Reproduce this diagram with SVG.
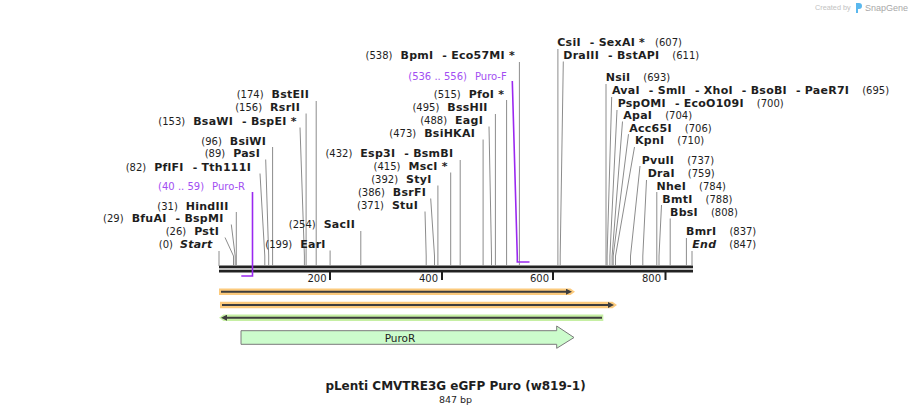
<svg xmlns="http://www.w3.org/2000/svg" width="912" height="414" viewBox="0 0 912 414">
<style>
text{font-family:"DejaVu Sans",Verdana,sans-serif;font-size:10px;fill:#1e1e1e}
.e{text-anchor:end}
.b{font-weight:bold;font-size:11px;letter-spacing:0.25px}
.bi{font-weight:bold;font-style:italic;font-size:11px;letter-spacing:0.25px}
.p{fill:#a24ef2}
.ln{stroke:#8c8c8c;stroke-width:1;fill:none}
.pl{stroke:#9a28f0;stroke-width:1.6;fill:none}
.tk{fill:#1e1e1e}
.or{fill:#fcca7c}
.gr{fill:#c6efa3}
.dk{stroke:#3d3d3d;stroke-width:2;fill:none}
.wm{font-family:"Liberation Sans",Arial,sans-serif}
</style>
<defs>
<marker id="ah" viewBox="0 0 6 6" refX="3" refY="3" markerWidth="6" markerHeight="6" markerUnits="userSpaceOnUse" orient="auto-start-reverse"><path d="M0,0 L6,3 L0,6 z" fill="#3d3d3d"/></marker>
</defs>
<rect width="912" height="414" fill="#fff"/>

<g id="watermark">
<text class="wm" x="815" y="10" style="font-size:7.3px;fill:#c2c2c2">Created by</text>
<path d="M856,3 h3 a3,3 0 0 1 0,6 h-1 v4 h-2 z" fill="#5ab8ee"/>
<text class="wm" x="865" y="11" style="font-size:9px;fill:#a8a8a8">SnapGene</text>
</g>

<g id="backbone">
<rect x="219" y="265.5" width="474" height="2.8" fill="#222"/>
<rect x="219" y="269.7" width="474" height="2.8" fill="#222"/>
<rect class="tk" x="329" y="272" width="2" height="8"/>
<rect class="tk" x="441" y="272" width="2" height="8"/>
<rect class="tk" x="552" y="272" width="2" height="8"/>
<rect class="tk" x="664.5" y="272" width="2" height="8"/>
<text class="e" x="326.5" y="281.5">200</text>
<text class="e" x="438" y="281.5">400</text>
<text class="e" x="549" y="281.5">600</text>
<text class="e" x="661" y="281.5">800</text>
</g>

<g id="connectors">
<polyline class="ln" points="219,251 219,266"/>
<polyline class="ln" points="225,237.5 233.5,256 233.5,266"/>
<polyline class="ln" points="231.3,224.5 235.2,256 235.2,266"/>
<polyline class="ln" points="236.3,212 236.3,266"/>
<polyline class="ln" points="260,173.5 264.8,256 264.8,266"/>
<polyline class="ln" points="265.7,159.5 268.7,256 268.7,266"/>
<polyline class="ln" points="272.6,147 272.6,266"/>
<polyline class="ln" points="300,127.5 304.4,256 304.4,266"/>
<polyline class="ln" points="306.1,113.5 306.1,266"/>
<polyline class="ln" points="316.2,101 316.2,266"/>
<polyline class="ln" points="330.1,250.5 330.1,266"/>
<polyline class="ln" points="360.8,231 360.8,266"/>
<polyline class="ln" points="425,211.5 426.2,256 426.2,266"/>
<polyline class="ln" points="430.7,198.5 434.5,256 434.5,266"/>
<polyline class="ln" points="437.9,185.5 437.9,266"/>
<polyline class="ln" points="450.7,172.5 450.7,266"/>
<polyline class="ln" points="460.2,160 460.2,266"/>
<polyline class="ln" points="483.1,139.5 483.1,266"/>
<polyline class="ln" points="489,126.5 491.5,256 491.5,266"/>
<polyline class="ln" points="495.4,114 495.4,266"/>
<polyline class="ln" points="506.6,100 506.6,266"/>
<polyline class="ln" points="519.4,62 519.4,266"/>
<polyline class="ln" points="557.9,49 557.9,266"/>
<polyline class="ln" points="563.3,61.5 560.2,256 560.2,266"/>
<polyline class="ln" points="606,84 606,266"/>
<polyline class="ln" points="611.7,97 607.1,256 607.1,266"/>
<polyline class="ln" points="617,110 609.9,256 609.9,266"/>
<polyline class="ln" points="622.5,121.5 612.1,256 612.1,266"/>
<polyline class="ln" points="628.5,134.2 613.2,256 613.2,266"/>
<polyline class="ln" points="634.5,147 615.5,256 615.5,266"/>
<polyline class="ln" points="640,166 630.5,256 630.5,266"/>
<polyline class="ln" points="646.5,180 642.8,256 642.8,266"/>
<polyline class="ln" points="656.8,192 656.8,266"/>
<polyline class="ln" points="661.5,205 659,256 659,266"/>
<polyline class="ln" points="670.2,218.5 670.2,266"/>
<polyline class="ln" points="686.4,238 686.4,266"/>
<polyline class="ln" points="692,251 692,266"/>
<polyline class="pl" points="252.5,192 252.5,276 241.3,276"/>
<polyline class="pl" points="512.3,81 517.3,257 517.3,262 529.5,262"/>
</g>

<g id="site-Start"><text class="e" x="212.5" y="248">(0)<tspan class="bi" dx="7">Start</tspan></text></g>
<g id="site-PstI"><text class="e" x="219" y="235">(26)<tspan class="b" dx="8">PstI</tspan></text></g>
<g id="site-BfuAI"><text class="e" x="223.5" y="222">(29)<tspan class="b" dx="8">BfuAI</tspan><tspan class="b" dx="9">- BspMI</tspan></text></g>
<g id="site-HindIII"><text class="e" x="228.5" y="209.5">(31)<tspan class="b" dx="8">HindIII</tspan></text></g>
<g id="primer-Puro-R"><text class="e p" x="245" y="189.5">(40 .. 59)<tspan dx="8">Puro-R</tspan></text></g>
<g id="site-PflFI"><text class="e" x="251" y="171">(82)<tspan class="b" dx="8">PflFI</tspan><tspan class="b" dx="9">- Tth111I</tspan></text></g>
<g id="site-PasI"><text class="e" x="260" y="157">(89)<tspan class="b" dx="8">PasI</tspan></text></g>
<g id="site-BsiWI"><text class="e" x="266" y="144.5">(96)<tspan class="b" dx="8">BsiWI</tspan></text></g>
<g id="site-BsaWI"><text class="e" x="296.7" y="124.5">(153)<tspan class="b" dx="8">BsaWI</tspan><tspan class="b" dx="9">- BspEI *</tspan></text></g>
<g id="site-RsrII"><text class="e" x="300" y="111">(156)<tspan class="b" dx="8">RsrII</tspan></text></g>
<g id="site-BstEII"><text class="e" x="309" y="98">(174)<tspan class="b" dx="8">BstEII</tspan></text></g>
<g id="site-EarI"><text class="e" x="325.7" y="248">(199)<tspan class="b" dx="8">EarI</tspan></text></g>
<g id="site-SacII"><text class="e" x="355" y="228">(254)<tspan class="b" dx="8">SacII</tspan></text></g>
<g id="site-StuI"><text class="e" x="418" y="209">(371)<tspan class="b" dx="8">StuI</tspan></text></g>
<g id="site-BsrFI"><text class="e" x="426" y="196">(386)<tspan class="b" dx="8">BsrFI</tspan></text></g>
<g id="site-StyI"><text class="e" x="431.5" y="183">(392)<tspan class="b" dx="8">StyI</tspan></text></g>
<g id="site-MscI"><text class="e" x="447.7" y="170">(415)<tspan class="b" dx="8">MscI *</tspan></text></g>
<g id="site-Esp3I"><text class="e" x="453.3" y="157">(432)<tspan class="b" dx="8">Esp3I</tspan><tspan class="b" dx="9">- BsmBI</tspan></text></g>
<g id="site-BsiHKAI"><text class="e" x="475" y="137">(473)<tspan class="b" dx="8">BsiHKAI</tspan></text></g>
<g id="site-EagI"><text class="e" x="483" y="124">(488)<tspan class="b" dx="8">EagI</tspan></text></g>
<g id="site-BssHII"><text class="e" x="487.7" y="111">(495)<tspan class="b" dx="8">BssHII</tspan></text></g>
<g id="site-PfoI"><text class="e" x="504.3" y="98">(515)<tspan class="b" dx="8">PfoI *</tspan></text></g>
<g id="primer-Puro-F"><text class="e p" x="506.7" y="79.5">(536 .. 556)<tspan dx="8">Puro-F</tspan></text></g>
<g id="site-BpmI"><text class="e" x="515" y="59">(538)<tspan class="b" dx="8">BpmI</tspan><tspan class="b" dx="9">- Eco57MI *</tspan></text></g>

<g id="site-CsiI"><text x="557.3" y="46"><tspan class="b">CsiI</tspan><tspan class="b" dx="9">- SexAI *</tspan><tspan dx="10">(607)</tspan></text></g>
<g id="site-DraIII"><text x="563.3" y="59"><tspan class="b">DraIII</tspan><tspan class="b" dx="9">- BstAPI</tspan><tspan dx="13">(611)</tspan></text></g>
<g id="site-NsiI"><text x="605.7" y="81"><tspan class="b">NsiI</tspan><tspan dx="13">(693)</tspan></text></g>
<g id="site-AvaI"><text x="612" y="94"><tspan class="b">AvaI</tspan><tspan class="b" dx="9">- SmlI</tspan><tspan class="b" dx="9">- XhoI</tspan><tspan class="b" dx="9">- BsoBI</tspan><tspan class="b" dx="9">- PaeR7I</tspan><tspan dx="13">(695)</tspan></text></g>
<g id="site-PspOMI"><text x="617.7" y="106.7"><tspan class="b">PspOMI</tspan><tspan class="b" dx="9">- EcoO109I</tspan><tspan dx="13">(700)</tspan></text></g>
<g id="site-ApaI"><text x="623.3" y="119"><tspan class="b">ApaI</tspan><tspan dx="13">(704)</tspan></text></g>
<g id="site-Acc65I"><text x="629.3" y="131.7"><tspan class="b">Acc65I</tspan><tspan dx="13">(706)</tspan></text></g>
<g id="site-KpnI"><text x="635" y="144.4"><tspan class="b">KpnI</tspan><tspan dx="13">(710)</tspan></text></g>
<g id="site-PvuII"><text x="641.7" y="163.5"><tspan class="b">PvuII</tspan><tspan dx="13">(737)</tspan></text></g>
<g id="site-DraI"><text x="647.7" y="177"><tspan class="b">DraI</tspan><tspan dx="13">(759)</tspan></text></g>
<g id="site-NheI"><text x="656.5" y="189.5"><tspan class="b">NheI</tspan><tspan dx="13">(784)</tspan></text></g>
<g id="site-BmtI"><text x="662.3" y="202.5"><tspan class="b">BmtI</tspan><tspan dx="13">(788)</tspan></text></g>
<g id="site-BbsI"><text x="670" y="215.5"><tspan class="b">BbsI</tspan><tspan dx="13">(808)</tspan></text></g>
<g id="site-BmrI"><text x="686" y="235"><tspan class="b">BmrI</tspan><tspan dx="13">(837)</tspan></text></g>
<g id="site-End"><text x="692.3" y="248"><tspan class="bi">End</tspan><tspan dx="13">(847)</tspan></text></g>

<g id="orf1">
<polygon class="or" points="219,288.5 570.5,288.5 575,291.7 570.5,295 219,295"/>
<line class="dk" x1="221" y1="291.7" x2="569" y2="291.7" marker-end="url(#ah)"/>
</g>
<g id="orf2">
<polygon class="or" points="220,301.8 612.5,301.8 617,305 612.5,308.2 220,308.2"/>
<line class="dk" x1="222" y1="305" x2="611" y2="305" marker-end="url(#ah)"/>
</g>
<g id="orf3">
<polygon class="gr" points="219,317.7 223.5,314.5 603.3,314.5 603.3,321 223.5,321"/>
<line class="dk" x1="224" y1="317.7" x2="602" y2="317.7" marker-start="url(#ah)"/>
</g>
<g id="PuroR">
<polygon points="241,330.7 556.7,330.7 556.7,326 574,337.5 556.7,348.3 556.7,344.3 241,344.3" fill="#ccfccc" stroke="#7a7a7a" stroke-width="1"/>
<text x="400" y="341.5" style="text-anchor:middle;font-size:10.5px">PuroR</text>
</g>

<g id="title">
<text x="455.5" y="389.5" style="text-anchor:middle;font-weight:bold;font-size:12px">pLenti CMVTRE3G eGFP Puro (w819-1)</text>
<text x="455.5" y="403" style="text-anchor:middle;font-size:9.5px">847 bp</text>
</g>
</svg>
